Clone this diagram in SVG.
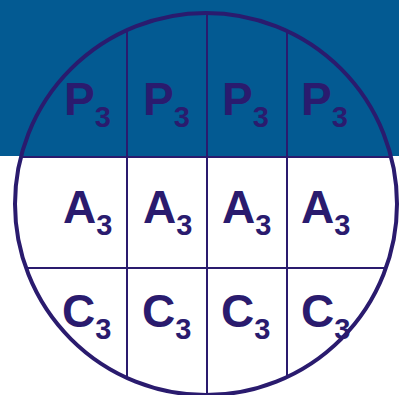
<svg xmlns="http://www.w3.org/2000/svg" width="399" height="395" viewBox="0 0 399 395">
<defs>
<style>
.ln{stroke:#2a1b6e;stroke-width:2;fill:none}
.t{font-family:"Liberation Sans",Arial,sans-serif;font-weight:bold;fill:#2a1b6e;font-size:46px}
.s{font-size:29px}
</style>
<clipPath id="cc"><circle cx="206" cy="204" r="191"/></clipPath>
</defs>
<rect x="0" y="0" width="399" height="395" fill="#ffffff"/>
<rect x="0" y="0" width="399" height="156" fill="#035a92"/>
<g id="connectors" clip-path="url(#cc)">
<line class="ln" x1="0" y1="157" x2="399" y2="157"/>
<line class="ln" x1="0" y1="268" x2="399" y2="268"/>
<line class="ln" x1="127" y1="0" x2="127" y2="395"/>
<line class="ln" x1="207" y1="0" x2="207" y2="395"/>
<line class="ln" x1="287" y1="0" x2="287" y2="395"/>
</g>
<g id="circle"><circle cx="206" cy="204" r="191" fill="none" stroke="#2a1b6e" stroke-width="4"/></g>
<g id="p1"><text class="t" x="64" y="115">P<tspan class="s" dy="12">3</tspan></text></g>
<g id="p2"><text class="t" x="143" y="115">P<tspan class="s" dy="12">3</tspan></text></g>
<g id="p3"><text class="t" x="222" y="115">P<tspan class="s" dy="12">3</tspan></text></g>
<g id="p4"><text class="t" x="301" y="115">P<tspan class="s" dy="12">3</tspan></text></g>
<g id="a1"><text class="t" x="63" y="223">A<tspan class="s" dy="12">3</tspan></text></g>
<g id="a2"><text class="t" x="143" y="223">A<tspan class="s" dy="12">3</tspan></text></g>
<g id="a3"><text class="t" x="222" y="223">A<tspan class="s" dy="12">3</tspan></text></g>
<g id="a4"><text class="t" x="301" y="223">A<tspan class="s" dy="12">3</tspan></text></g>
<g id="c1"><text class="t" x="62" y="327">C<tspan class="s" dy="12">3</tspan></text></g>
<g id="c2"><text class="t" x="142" y="327">C<tspan class="s" dy="12">3</tspan></text></g>
<g id="c3"><text class="t" x="221" y="327">C<tspan class="s" dy="12">3</tspan></text></g>
<g id="c4"><text class="t" x="301" y="327">C<tspan class="s" dy="12">3</tspan></text></g>
</svg>
